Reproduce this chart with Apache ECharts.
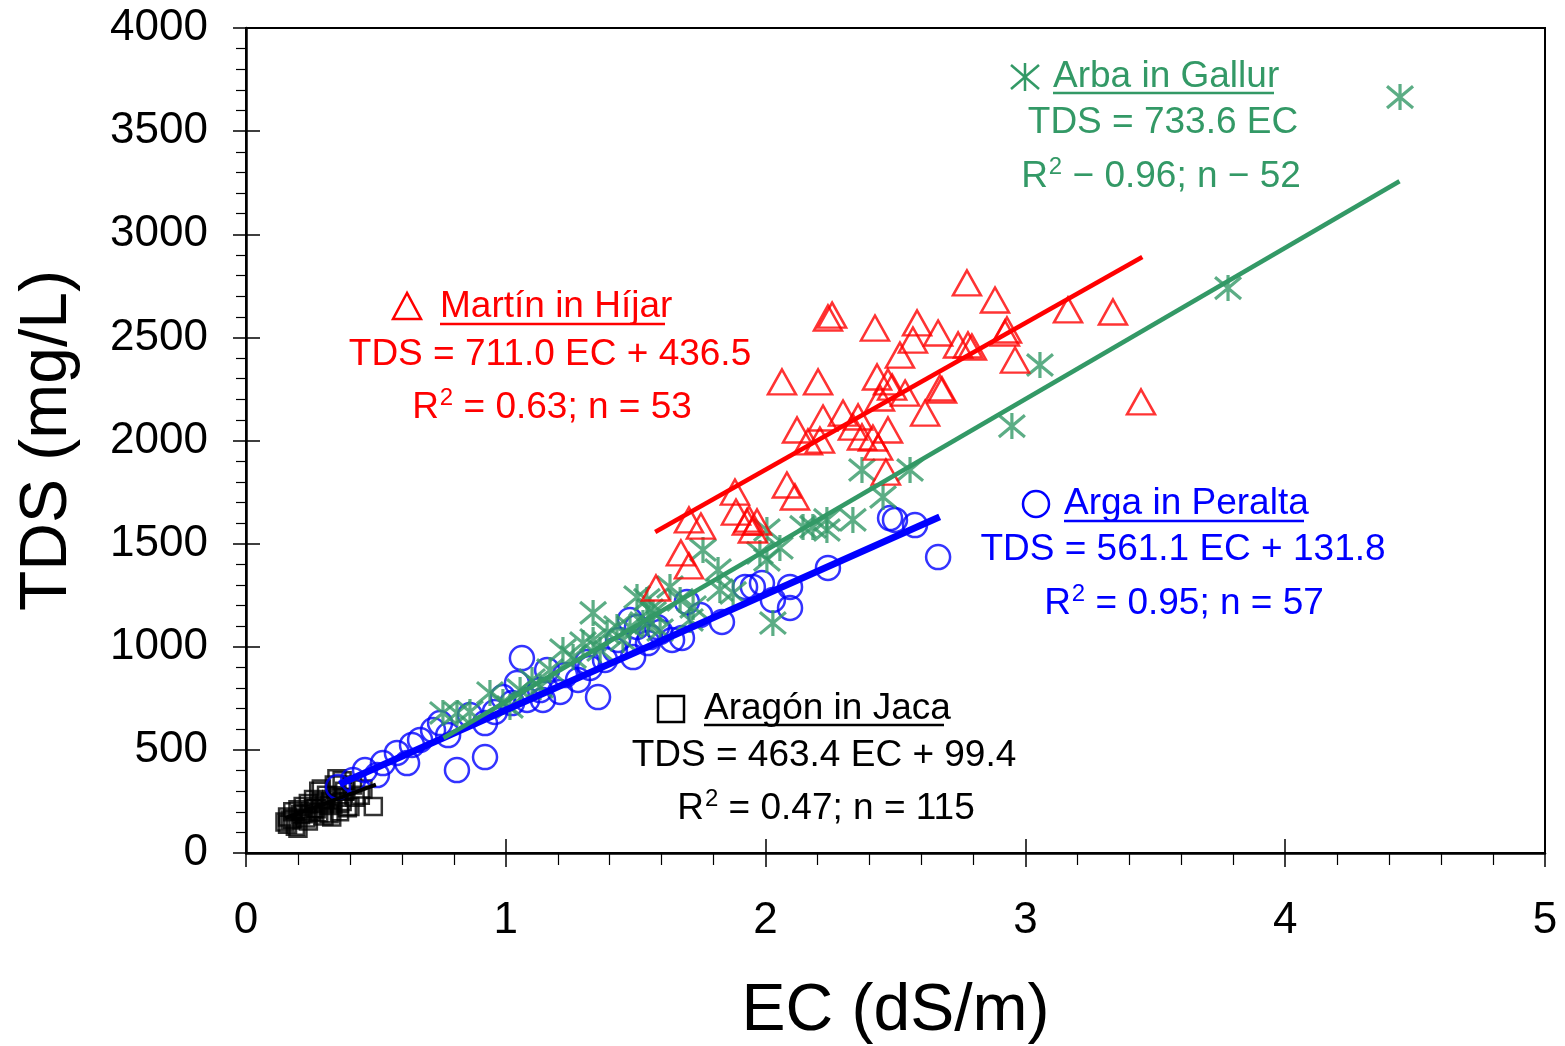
<!DOCTYPE html>
<html>
<head>
<meta charset="utf-8">
<script src="https://cdn.jsdelivr.net/npm/echarts@6/dist/echarts.min.js"></script>
<style>
  html, body { margin: 0; padding: 0; background: #fff; }
  #chart { width: 1565px; height: 1046px; }
</style>
</head>
<body>
<div id="chart"></div>
<script>
// EC (dS/m), TDS (mg/L) pairs
const aragonPts = [
  [0.15,150],[0.16,175],[0.17,160],[0.18,200],[0.19,130],[0.20,120],[0.20,210],[0.21,185],
  [0.22,225],[0.23,170],[0.24,240],[0.25,200],[0.26,260],[0.27,215],[0.28,300],[0.29,250],
  [0.30,180],[0.31,280],[0.32,230],[0.33,175],[0.34,330],[0.35,360],[0.35,270],[0.36,200],
  [0.37,350],[0.37,250],[0.38,300],[0.39,220],[0.40,225],[0.42,270],[0.45,310],[0.49,225],
  [0.18,165],[0.22,190],[0.26,215],[0.30,240],[0.33,260],[0.16,140],[0.24,155],[0.28,195],
  [0.32,190],[0.36,240],[0.44,280],[0.41,330],[0.29,310]
]
const argaPts = [
  [0.354,320],[0.504,378],[0.527,436],[0.581,485],[0.620,436],[0.639,524],[0.720,596],[0.747,630],
  [0.778,572],[0.812,402],[0.920,465],[0.920,630],[0.989,756],[1.043,824],[1.024,727],[1.082,742],
  [1.062,945],[1.159,887],[1.143,742],[1.209,781],[1.278,839],[1.355,756],[1.313,926],[1.478,1130],
  [1.490,950],[1.505,1096],[1.547,1018],[1.582,1096],[1.640,1033],[1.678,1043],[1.555,1047],[1.697,1217],
  [1.832,1120],[1.921,1290],[1.951,1290],[1.986,1309],[2.028,1227],[2.094,1290],[2.094,1188],[2.240,1382],
  [2.479,1624],[2.498,1615],[2.575,1590],[2.664,1435],[0.458,402],[0.670,548],[0.862,669],[0.958,684],
  [1.132,790],[1.228,863],[1.382,936],[1.420,984],[1.594,1072],[1.748,1154],[1.432,1033],[1.324,897],
  [0.412,354]
]
const arbaPts = [
  [0.758,679],[0.812,679],[0.939,776],[0.989,732],[1.016,708],[1.101,839],[1.132,805],[1.220,984],
  [1.259,950],[1.336,1164],[1.297,1018],[1.336,1033],[1.390,1067],[1.428,1096],[1.451,1033],[1.478,1096],
  [1.543,1227],[1.555,1178],[1.528,1115],[1.505,1241],[1.567,1164],[1.547,1115],[1.632,1290],[1.721,1193],
  [1.759,1469],[1.817,1372],[1.824,1275],[1.875,1261],[1.978,1455],[2.005,1421],[2.005,1566],[2.028,1115],
  [2.144,1581],[2.182,1581],[2.236,1566],[2.236,1615],[2.336,1615],[2.452,1726],[2.371,1857],[2.556,1857],
  [2.948,2070],[3.056,2366],[3.780,2739],[4.442,3665],[2.055,1479],[1.709,1130],[1.671,1227],[1.594,1081],
  [1.363,984],[1.170,887],[1.055,790],[0.862,684]
]
const martinPts = [
  [1.578,1285],[1.674,1455],[1.705,1392],[1.705,1615],[1.751,1585],[1.882,1750],[1.886,1653],[1.936,1619],
  [1.951,1566],[1.967,1605],[2.082,1784],[2.113,1726],[2.063,2284],[2.202,2284],[2.121,2051],[2.163,1993],
  [2.209,2002],[2.221,2109],[2.240,2594],[2.256,2608],[2.298,2133],[2.336,2065],[2.356,2114],[2.371,2017],
  [2.413,2012],[2.433,1968],[2.421,2545],[2.429,2308],[2.440,2206],[2.463,1847],[2.471,2051],[2.471,2284],
  [2.487,2259],[2.517,2414],[2.537,2230],[2.583,2570],[2.567,2487],[2.614,2133],[2.671,2255],[2.679,2245],
  [2.664,2521],[2.741,2463],[2.775,2764],[2.779,2463],[2.794,2453],[2.883,2681],[2.921,2521],[2.929,2536],
  [2.960,2390],[3.164,2633],[3.337,2623],[3.445,2187],[1.928,1605]
]

// regression fits: [slope, intercept, ecStart, ecEnd]
const aragonFit = [463.4, 99.4, 0.15, 0.50]
const argaFit = [561.1, 131.8, 0.36, 2.67]
const arbaFit = [733.6, 0, 0.76, 4.44]
const martinFit = [711.0, 436.5, 1.575, 3.45]

const xTicks = [0, 1, 2, 3, 4, 5]
const yTicks = [0, 500, 1000, 1500, 2000, 2500, 3000, 3500, 4000]

const RED = '#ff0000'
const BLUE = '#0000ff'
const GREEN = '#339966'
const BLACK = '#000000'
const FONT = '"Liberation Sans", Arial, sans-serif'

function fitLine(f) {
  return [[f[2], f[0] * f[2] + f[1]], [f[3], f[0] * f[3] + f[1]]]
}

const asterisk = 'path://M0,0L20,20M20,0L0,20M10,-2L10,22'

function scatter(name, data, symbol, size, color, bw) {
  return {
    name: name,
    type: 'scatter',
    data: data,
    symbol: symbol,
    symbolSize: size,
    itemStyle: { color: 'rgba(0,0,0,0)', borderColor: color, borderWidth: bw },
    emphasis: { disabled: true },
    silent: true,
    z: 2
  }
}

function line(name, f, color, w) {
  return {
    name: name,
    type: 'line',
    data: fitLine(f),
    showSymbol: false,
    lineStyle: { color: color, width: w },
    silent: true,
    z: 3
  }
}

// annotation pieces
function label(x, y, text, color, align) {
  return {
    type: 'text',
    x: x, y: y,
    style: {
      text: text, font: '37px ' + FONT, fill: color,
      align: align || 'center', verticalAlign: 'middle',
      textAlign: align || 'center', textVerticalAlign: 'middle'
    },
    z: 10
  }
}
// R² line with a raised superscript
function r2label(x, y, rest, color) {
  return {
    type: 'text',
    x: x, y: y,
    style: {
      text: '{n|R}{s|2}{n|' + rest + '}',
      fill: color,
      align: 'center', verticalAlign: 'middle',
      textAlign: 'center', textVerticalAlign: 'middle',
      rich: {
        n: { fontSize: 37, fontFamily: FONT, fill: color, color: color, lineHeight: 44 },
        s: { fontSize: 24, fontFamily: FONT, fill: color, color: color, lineHeight: 44, verticalAlign: 'top', padding: [0, 0, 0, 1] }
      }
    },
    z: 10
  }
}
function seg(x1, y1, x2, y2, color) {
  return { type: 'line', shape: { x1: x1, y1: y1, x2: x2, y2: y2 }, style: { stroke: color, lineWidth: 2.5 }, z: 10 }
}

const graphics = [
  // Martín in Híjar
  { type: 'polygon', shape: { points: [[407, 293], [393, 319], [421, 319]] }, style: { fill: 'none', stroke: RED, lineWidth: 2.5 }, z: 10 },
  label(440, 307, 'Martín in Híjar', RED, 'left'),
  seg(440, 324, 665, 324, RED),
  label(550, 355, 'TDS = 711.0 EC + 436.5', RED),
  r2label(552, 408, ' = 0.63; n = 53', RED),
  // Arba in Gallur
  seg(1011, 65, 1039, 89, GREEN),
  seg(1039, 65, 1011, 89, GREEN),
  seg(1025, 63, 1025, 91, GREEN),
  label(1053, 77, 'Arba in Gallur', GREEN, 'left'),
  seg(1053, 93, 1274, 93, GREEN),
  label(1163, 123, 'TDS = 733.6 EC', GREEN),
  r2label(1161, 177, ' − 0.96; n − 52', GREEN),
  // Arga in Peralta
  { type: 'circle', shape: { cx: 1036, cy: 504, r: 13 }, style: { fill: 'none', stroke: BLUE, lineWidth: 2.5 }, z: 10 },
  label(1064, 504, 'Arga in Peralta', BLUE, 'left'),
  seg(1064, 521, 1304, 521, BLUE),
  label(1183, 550, 'TDS = 561.1 EC + 131.8', BLUE),
  r2label(1184, 604, ' = 0.95; n = 57', BLUE),
  // Aragón in Jaca
  { type: 'rect', shape: { x: 658, y: 696, width: 26, height: 26 }, style: { fill: 'none', stroke: BLACK, lineWidth: 2.5 }, z: 10 },
  label(704, 709, 'Aragón in Jaca', BLACK, 'left'),
  seg(704, 725, 944, 725, BLACK),
  label(824, 756, 'TDS = 463.4 EC + 99.4', BLACK),
  r2label(826, 809, ' = 0.47; n = 115', BLACK)
]

const chart = echarts.init(document.getElementById('chart'))
const option = {
  animation: false,
  backgroundColor: '#fff',
  grid: {
    left: 246, right: 20, top: 28, bottom: 193, outerBoundsMode: 'none', containLabel: false,
    show: true, borderColor: '#000', borderWidth: 2, backgroundColor: 'transparent'
  },
  xAxis: [
    {
      type: 'value', min: xTicks[0], max: xTicks[xTicks.length - 1], interval: 1, position: 'bottom',
      name: 'EC (dS/m)', nameLocation: 'middle', nameGap: 126,
      nameTextStyle: { fontSize: 66, fontFamily: FONT, color: '#000' },
      axisLine: { show: true, onZero: false, lineStyle: { color: '#000', width: 2.5 } },
      axisTick: { show: true, inside: false, length: 14, lineStyle: { color: '#000', width: 1.5 } },
      minorTick: { show: true, splitNumber: 5, length: 12, lineStyle: { color: '#000', width: 1.2 } },
      axisLabel: { fontSize: 44, fontFamily: FONT, color: '#000', margin: 46 },
      splitLine: { show: false }
    },
    {
      type: 'value', min: xTicks[0], max: xTicks[xTicks.length - 1], interval: 1, position: 'bottom',
      axisLine: { show: false, onZero: false },
      axisTick: { show: true, inside: true, length: 14, lineStyle: { color: '#000', width: 1.5 } },
      axisLabel: { show: false }, splitLine: { show: false }
    }
  ],
  yAxis: [
    {
      type: 'value', min: yTicks[0], max: yTicks[yTicks.length - 1], interval: 500, position: 'left',
      name: 'TDS (mg/L)', nameLocation: 'middle', nameGap: 165,
      nameTextStyle: { fontSize: 66, fontFamily: FONT, color: '#000' },
      axisLine: { show: true, onZero: false, lineStyle: { color: '#000', width: 2.5 } },
      axisTick: { show: true, inside: false, length: 13, lineStyle: { color: '#000', width: 1.5 } },
      minorTick: { show: true, splitNumber: 5, length: 10, lineStyle: { color: '#000', width: 1.2 } },
      axisLabel: { fontSize: 44, fontFamily: FONT, color: '#000', margin: 38, formatter: v => String(v) },
      splitLine: { show: false }
    },
    {
      type: 'value', min: yTicks[0], max: yTicks[yTicks.length - 1], interval: 500, position: 'left',
      axisLine: { show: false, onZero: false },
      axisTick: { show: true, inside: true, length: 14, lineStyle: { color: '#000', width: 1.5 } },
      axisLabel: { show: false }, splitLine: { show: false }
    }
  ],
  series: [
    scatter('Aragón in Jaca', aragonPts, 'rect', 17, BLACK, 2.5),
    scatter('Arga in Peralta', argaPts, 'circle', 24, BLUE, 2.5),
    scatter('Arba in Gallur', arbaPts, asterisk, 26, GREEN, 3.2),
    scatter('Martín in Híjar', martinPts, 'triangle', [28, 25], RED, 2.5),
    line('Aragón fit', aragonFit, BLACK, 4),
    line('Arga fit', argaFit, BLUE, 7),
    line('Arba fit', arbaFit, GREEN, 4.5),
    line('Martín fit', martinFit, RED, 4.5)
  ],
  graphic: graphics
}
chart.setOption(option)
window.addEventListener('resize', () => chart.resize())
</script>
</body>
</html>
